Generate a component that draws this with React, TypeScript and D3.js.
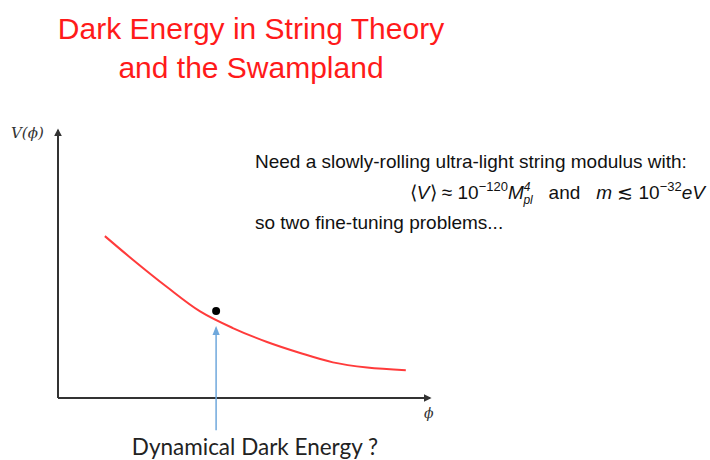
import React, { useEffect, useRef } from "react";
import * as d3 from "d3";

// curve V(phi) (axis units 0..1)
const phiValues = [0.126, 0.202, 0.293, 0.382, 0.47, 0.562, 0.651, 0.739, 0.831, 0.935];
const vValues = [0.604, 0.515, 0.414, 0.323, 0.261, 0.209, 0.168, 0.133, 0.114, 0.104];
// the marked field value
const dotPoint = [0.425, 0.325];
// arrow from the label up to the curve
const arrowPhi = 0.425;
const arrowFrom = -0.12;
const arrowTo = 0.262;

const titleLines = ["Dark Energy in String Theory", "and the Swampland"];
const noteLine1 = "Need a slowly-rolling ultra-light string modulus with:";
const noteLine3 = "so two fine-tuning problems...";
const arrowLabel = "Dynamical Dark Energy ?";

const W = 710;
const H = 460;

export default function App() {
	const ref = useRef<SVGSVGElement>(null);

	useEffect(() => {
		const svg = d3.select(ref.current);
		svg.selectAll("*").remove();

		const x = d3.scaleLinear().domain([0, 1]).range([58, 430]);
		const y = d3.scaleLinear().domain([0, 1]).range([398, 130]);

		const defs = svg.append("defs");
		defs.append("marker")
			.attr("id", "axHead").attr("viewBox", "0 0 10 10")
			.attr("refX", 8).attr("refY", 5)
			.attr("markerWidth", 4).attr("markerHeight", 4)
			.attr("orient", "auto")
			.append("path").attr("d", "M0,0 L10,5 L0,10 z").attr("fill", "#333");
		defs.append("marker")
			.attr("id", "blueHead").attr("viewBox", "0 0 10 10")
			.attr("refX", 8).attr("refY", 5)
			.attr("markerWidth", 6).attr("markerHeight", 6)
			.attr("orient", "auto")
			.append("path").attr("d", "M0,1 L10,5 L0,9 z").attr("fill", "#6fa8dc");

		// title
		svg.append("g").selectAll("text").data(titleLines).join("text")
			.attr("x", 251).attr("y", (d, i) => 39 + i * 39)
			.attr("text-anchor", "middle")
			.attr("font-family", "'Liberation Sans', Arial, sans-serif")
			.attr("font-size", 30)
			.attr("fill", "#ff1a1a")
			.text(d => d);

		// axes
		svg.append("line")
			.attr("x1", x(0)).attr("y1", y(0)).attr("x2", x(0)).attr("y2", y(1))
			.attr("stroke", "#333").attr("stroke-width", 2)
			.attr("marker-end", "url(#axHead)");
		svg.append("line")
			.attr("x1", x(0)).attr("y1", y(0)).attr("x2", x(1)).attr("y2", y(0))
			.attr("stroke", "#333").attr("stroke-width", 2)
			.attr("marker-end", "url(#axHead)");

		svg.append("text")
			.attr("x", 11).attr("y", 138)
			.attr("font-family", "'DejaVu Serif', serif")
			.attr("font-style", "italic")
			.attr("font-size", 15)
			.attr("fill", "#333")
			.text("V(ϕ)");

		svg.append("text")
			.attr("x", x(1) - 6).attr("y", y(0) + 20)
			.attr("font-family", "'DejaVu Serif', serif")
			.attr("font-style", "italic")
			.attr("font-size", 14)
			.attr("fill", "#333")
			.text("ϕ");

		// potential curve
		const line = d3.line<number>()
			.x((d, i) => x(phiValues[i]))
			.y(d => y(d))
			.curve(d3.curveCatmullRom);
		svg.append("path")
			.datum(vValues)
			.attr("fill", "none")
			.attr("stroke", "#ff3b3b")
			.attr("stroke-width", 2)
			.attr("d", line);

		svg.append("circle")
			.attr("cx", x(dotPoint[0])).attr("cy", y(dotPoint[1]))
			.attr("r", 4).attr("fill", "#000");

		// arrow + label
		svg.append("line")
			.attr("x1", x(arrowPhi)).attr("y1", y(arrowFrom))
			.attr("x2", x(arrowPhi)).attr("y2", y(arrowTo))
			.attr("stroke", "#6fa8dc").attr("stroke-width", 1.5)
			.attr("marker-end", "url(#blueHead)");

		svg.append("text")
			.attr("x", 255).attr("y", 455)
			.attr("text-anchor", "middle")
			.attr("font-family", "Lato, 'Open Sans', sans-serif")
			.attr("font-size", 22.5)
			.attr("fill", "#222")
			.text(arrowLabel);

		// note text
		const note = svg.append("g")
			.attr("font-family", "'Liberation Sans', Arial, sans-serif")
			.attr("font-size", 19)
			.attr("fill", "#111");
		note.append("text").attr("x", 255).attr("y", 168).text(noteLine1);
		note.append("text").attr("x", 255).attr("y", 229).text(noteLine3);

		const eq = note.append("text").attr("x", 705).attr("y", 199).attr("text-anchor", "end");
		eq.append("tspan").text("⟨");
		eq.append("tspan").attr("font-style", "italic").text("V");
		eq.append("tspan").text("⟩ ≈ 10");
		eq.append("tspan").attr("font-size", 13).attr("dy", -8).text("−120");
		eq.append("tspan").attr("font-style", "italic").attr("dy", 8).text("M");
		eq.append("tspan").attr("font-size", 12).attr("font-style", "italic").attr("dy", -8).text("4");
		eq.append("tspan").attr("font-size", 12).attr("font-style", "italic").attr("dx", -7).attr("dy", 13).text("pl");
		eq.append("tspan").attr("dy", -5).attr("xml:space", "preserve").text("   and   ");
		eq.append("tspan").attr("font-style", "italic").text("m");
		eq.append("tspan").text(" ≲ 10");
		eq.append("tspan").attr("font-size", 13).attr("dy", -8).text("−32");
		eq.append("tspan").attr("font-style", "italic").attr("dy", 8).text("eV");
	}, []);

	return (
		<svg ref={ref} width={W} height={H} style={{ display: "block", position: "absolute", left: 0, top: 0, background: "#fff" }} />
	);
}
